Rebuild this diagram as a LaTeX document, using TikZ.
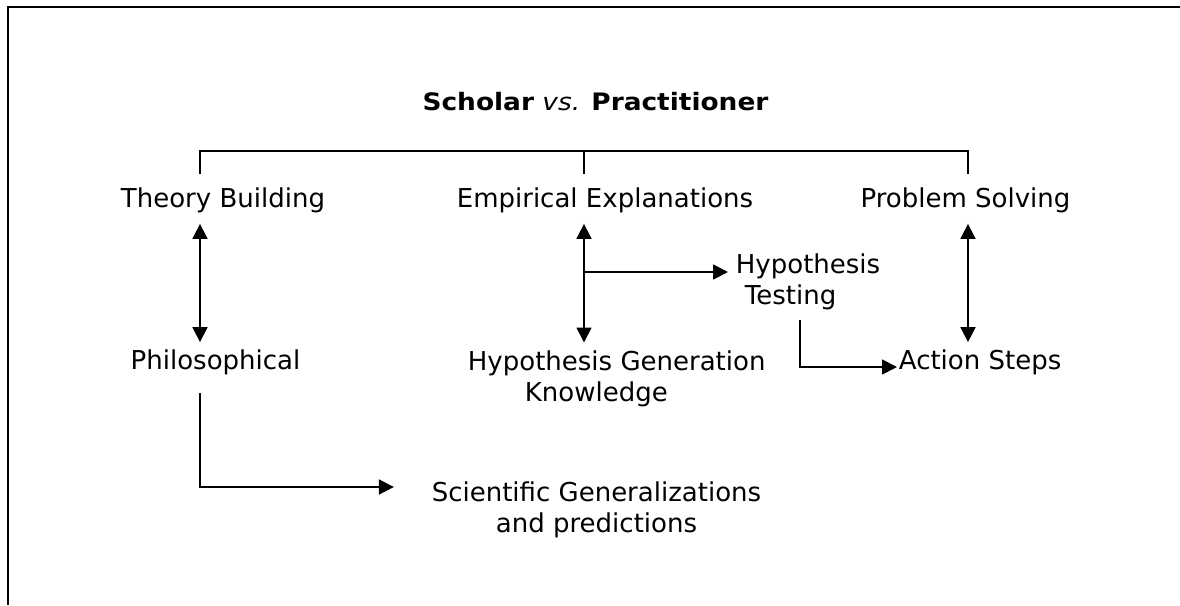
\documentclass[tikz,border=0pt]{standalone}
\usepackage{fontspec}
\setmainfont{DejaVu Sans}
\newfontfamily\titlefont{DejaVu Sans}[FakeStretch=1.1]
\usetikzlibrary{arrows.meta}
\begin{document}
\begin{tikzpicture}[x=1pt,y=-1pt,
  every path/.style={line width=1.8pt},
  lbl/.style={inner sep=0pt, font=\fontsize{26}{31}\selectfont},
  onel/.style={lbl, text height=19pt, text depth=6pt},
  title/.style={inner sep=0pt, font=\titlefont\fontsize{24}{29}\selectfont},
  arr/.style={-{Triangle[length=15pt,width=15pt]}},
  dbl/.style={{Triangle[length=15pt,width=15pt]}-{Triangle[length=15pt,width=15pt]}},
]
\useasboundingbox (0,0) rectangle (1180,605);
% frame (top and left edges)
\draw (8,605) -- (8,7) -- (1180,7);

% title
\node[title, anchor=base] (ttl) at (595.5,110) {\textbf{Scholar} \textit{vs.} \textbf{Practitioner}};

% column positions of the tree bar
\coordinate (barL) at (200,151);
\coordinate (barM) at (584,151);
\coordinate (barR) at (968,151);

% labels
\node[onel, anchor=base] (tb) at (223,207) {Theory Building};
\node[onel, anchor=base] (ee) at (605,207) {Empirical Explanations};
\node[onel, anchor=base] (ps) at (965.5,207) {Problem Solving};
\node[onel, anchor=base] (ph) at (215.5,369) {Philosophical};
\node[onel, anchor=base west] (as) at (898,369) {Action Steps};
\node[lbl, anchor=north west, align=left] (hyp) at (735,252.5)
  {Hypothesis\\\hspace*{9pt}Testing};
\node[lbl, anchor=north west, align=left] (hg) at (467,349.5)
  {Hypothesis Generation\\\hspace*{57pt}Knowledge};
\node[lbl, anchor=north, align=center] (sg) at (596.5,480.5)
  {Scientific Generalizations\\and predictions};

% turning points of the elbow connectors
\coordinate (brn) at (584,272);
\coordinate (tturn) at (800,367);
\coordinate (pturn) at (200,487);

% tree bar
\draw[shorten <=13pt, shorten >=13pt] (tb.north -| barL) -- (barL) -- (barR) -- (ps.north -| barR);
\draw[shorten >=13pt] (barM) -- (ee.north -| barM);

% two-way links
\draw[dbl, shorten <=10pt, shorten >=7pt] (tb.south -| barL) -- (ph.north -| barL);
\draw[dbl, shorten <=10pt, shorten >=7pt] (ee.south -| barM) -- (hg.north -| barM);
\draw[dbl, shorten <=10pt, shorten >=7pt] (ps.south -| barR) -- (as.north -| barR);

% one-way links
\draw[arr, shorten >=7pt] (brn) -- (hyp.west |- brn);
\draw[arr, shorten <=10pt, shorten >=1pt] (hyp.south -| tturn) -- (tturn) -- (as.west |- tturn);
\draw[arr, shorten <=17pt, shorten >=37pt] (ph.south -| pturn) -- (pturn) -- (sg.west |- pturn);
\end{tikzpicture}
\end{document}
